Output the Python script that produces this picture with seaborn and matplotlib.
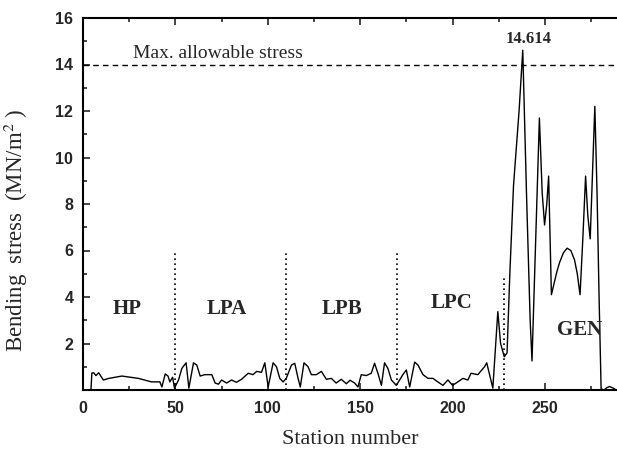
import matplotlib
matplotlib.use("Agg")
import matplotlib.pyplot as plt
import seaborn as sns
import pandas as pd
from matplotlib.ticker import MultipleLocator

station = [4.3, 4.8, 5.8, 7.0, 8.5, 11, 14, 21, 30, 37, 41.6, 42.7, 44.5, 46, 47, 48.5, 49.5,
           51.7, 53.5, 55.8, 57.3, 59.8, 61.6, 63.4, 66, 69.7, 71.5, 73.3, 75, 77.7, 80.4, 83,
           85.8, 89.4, 92, 94, 96.6, 98.4, 100.2, 102.9, 104.7, 106.5, 108.3, 110, 112.8, 114.6,
           116.4, 117.6, 119.6, 121.8, 123.6, 126.3, 129, 131.7, 134.4, 137, 139.8, 142.5, 144.5,
           147, 148.8, 150.6, 153.3, 156, 157.8, 159.6, 161.5, 163.2, 165, 166.9, 169.6, 173.1,
           175, 176.8, 179.5, 181.3, 184, 186.7, 189.4, 192, 194.8, 197.5, 200, 202.9, 205.6,
           208.3, 210, 213.7, 217.3, 218.5, 221.8, 224.5, 226, 228, 229.5, 231, 233, 236, 238,
           240, 242, 243, 245, 247, 248.5, 249.8, 251, 252, 253.5, 255, 256.5, 258, 260, 262,
           264, 266, 267.5, 269, 270.5, 272, 273.2, 274.5, 276, 277, 278.2, 279.3, 280.4, 282,
           283.5, 285, 287, 288.5]
stress = [0.0, 0.73, 0.74, 0.62, 0.74, 0.43, 0.5, 0.6, 0.5, 0.35, 0.35, 0.13, 0.69, 0.6, 0.35, 0.55, 0.08,
          0.43, 0.93, 1.17, 0.08, 1.17, 1.07, 0.6, 0.66, 0.66, 0.3, 0.25, 0.43, 0.3, 0.43, 0.33,
          0.46, 0.72, 0.66, 0.8, 0.76, 1.17, 0.13, 1.17, 1.0, 0.5, 0.35, 0.5, 1.07, 1.15,
          0.5, 0.13, 1.17, 1.0, 0.66, 0.66, 0.8, 0.46, 0.5, 0.3, 0.46, 0.27, 0.42,
          0.3, 0.13, 0.66, 0.62, 0.72, 1.15, 0.72, 0.2, 1.17, 0.93, 0.43, 0.2, 0.66,
          0.86, 0.13, 1.2, 1.07, 0.66, 0.5, 0.5, 0.35, 0.2, 0.43, 0.2, 0.35, 0.5,
          0.43, 0.72, 0.66, 1.0, 1.17, 0.08, 3.37, 2.0, 1.43, 1.6, 5.0, 8.8, 12.0, 14.614,
          8.5, 3.0, 1.25, 6.5, 11.7, 8.5, 7.1, 8.0, 9.2, 4.1, 4.6, 5.1, 5.5, 5.9, 6.1,
          6.0, 5.6, 5.0, 4.1, 6.5, 9.2, 7.5, 6.5, 10.0, 12.2, 8.5, 4.0, 0.05, 0.0,
          0.1, 0.15, 0.08, 0.0]

regions = ["HP", "LPA", "LPB", "LPC", "GEN"]
region_x = [24, 78, 140, 199.5, 268.5]
region_y = [3.5, 3.5, 3.5, 3.75, 2.6]
boundaries = [50, 110, 170, 228]
boundary_tops = [5.9, 5.9, 5.9, 4.9]
max_allowable = 14.0
peak_label = "14.614"

sns.set_theme(style="ticks")
plt.rcParams['font.family'] = ['Liberation Serif', 'DejaVu Serif']
plt.rcParams['mathtext.fontset'] = 'stix'

fig = plt.figure(figsize=(6.17, 4.49), dpi=100)
ax = fig.add_axes([83/617, 1 - 390/449, 1 - 83/617, (390 - 18)/449])

df = pd.DataFrame({"station": station, "stress": stress})
sns.lineplot(data=df, x="station", y="stress", ax=ax, color="black", lw=1.0, estimator=None)

ax.axhline(max_allowable, color="black", lw=1.0, ls=(0, (4, 3)))
for b, t in zip(boundaries, boundary_tops):
    ax.plot([b, b], [0, t], color="black", lw=1.2, ls=(0, (1, 2)))

for r, x, y in zip(regions, region_x, region_y):
    ax.text(x, y, r, ha="center", va="center", fontsize=15, fontweight="bold",
            family="Liberation Serif")

ax.text(73, 14.1, "Max. allowable stress", ha="center", va="bottom", fontsize=14,
        family="Liberation Serif")
ax.text(241, 14.75, peak_label, ha="center", va="bottom", fontsize=12, fontweight="bold",
        family="Liberation Serif")

ax.set_xlim(0, 289)
ax.set_ylim(0, 16)
ax.xaxis.set_major_locator(MultipleLocator(50))
ax.xaxis.set_minor_locator(MultipleLocator(25))
ax.set_yticks([2, 4, 6, 8, 10, 12, 14, 16])
ax.yaxis.set_minor_locator(MultipleLocator(1))
ax.tick_params(which="both", direction="in", top=True, right=False, width=1.2)
ax.tick_params(which="major", length=5)
ax.tick_params(which="minor", length=3)
ax.tick_params(axis="x", pad=8)
ax.tick_params(axis="y", pad=7)
for lab in ax.get_xticklabels() + ax.get_yticklabels():
    lab.set_family("Liberation Sans")
    lab.set_fontweight("bold")
    lab.set_fontsize(11.5)

ax.set_xlabel("Station number", fontsize=16, family="Liberation Serif", labelpad=10)
ax.set_ylabel("Bending  stress  (MN/m$^2$ )", fontsize=16.5, family="Liberation Serif")
ax.yaxis.set_label_coords(-0.1, 0.43)

for s in ["left", "bottom", "top"]:
    ax.spines[s].set_linewidth(1.5)
    ax.spines[s].set_color("black")
ax.spines["right"].set_visible(False)

fig.savefig("out.png", dpi=100)
